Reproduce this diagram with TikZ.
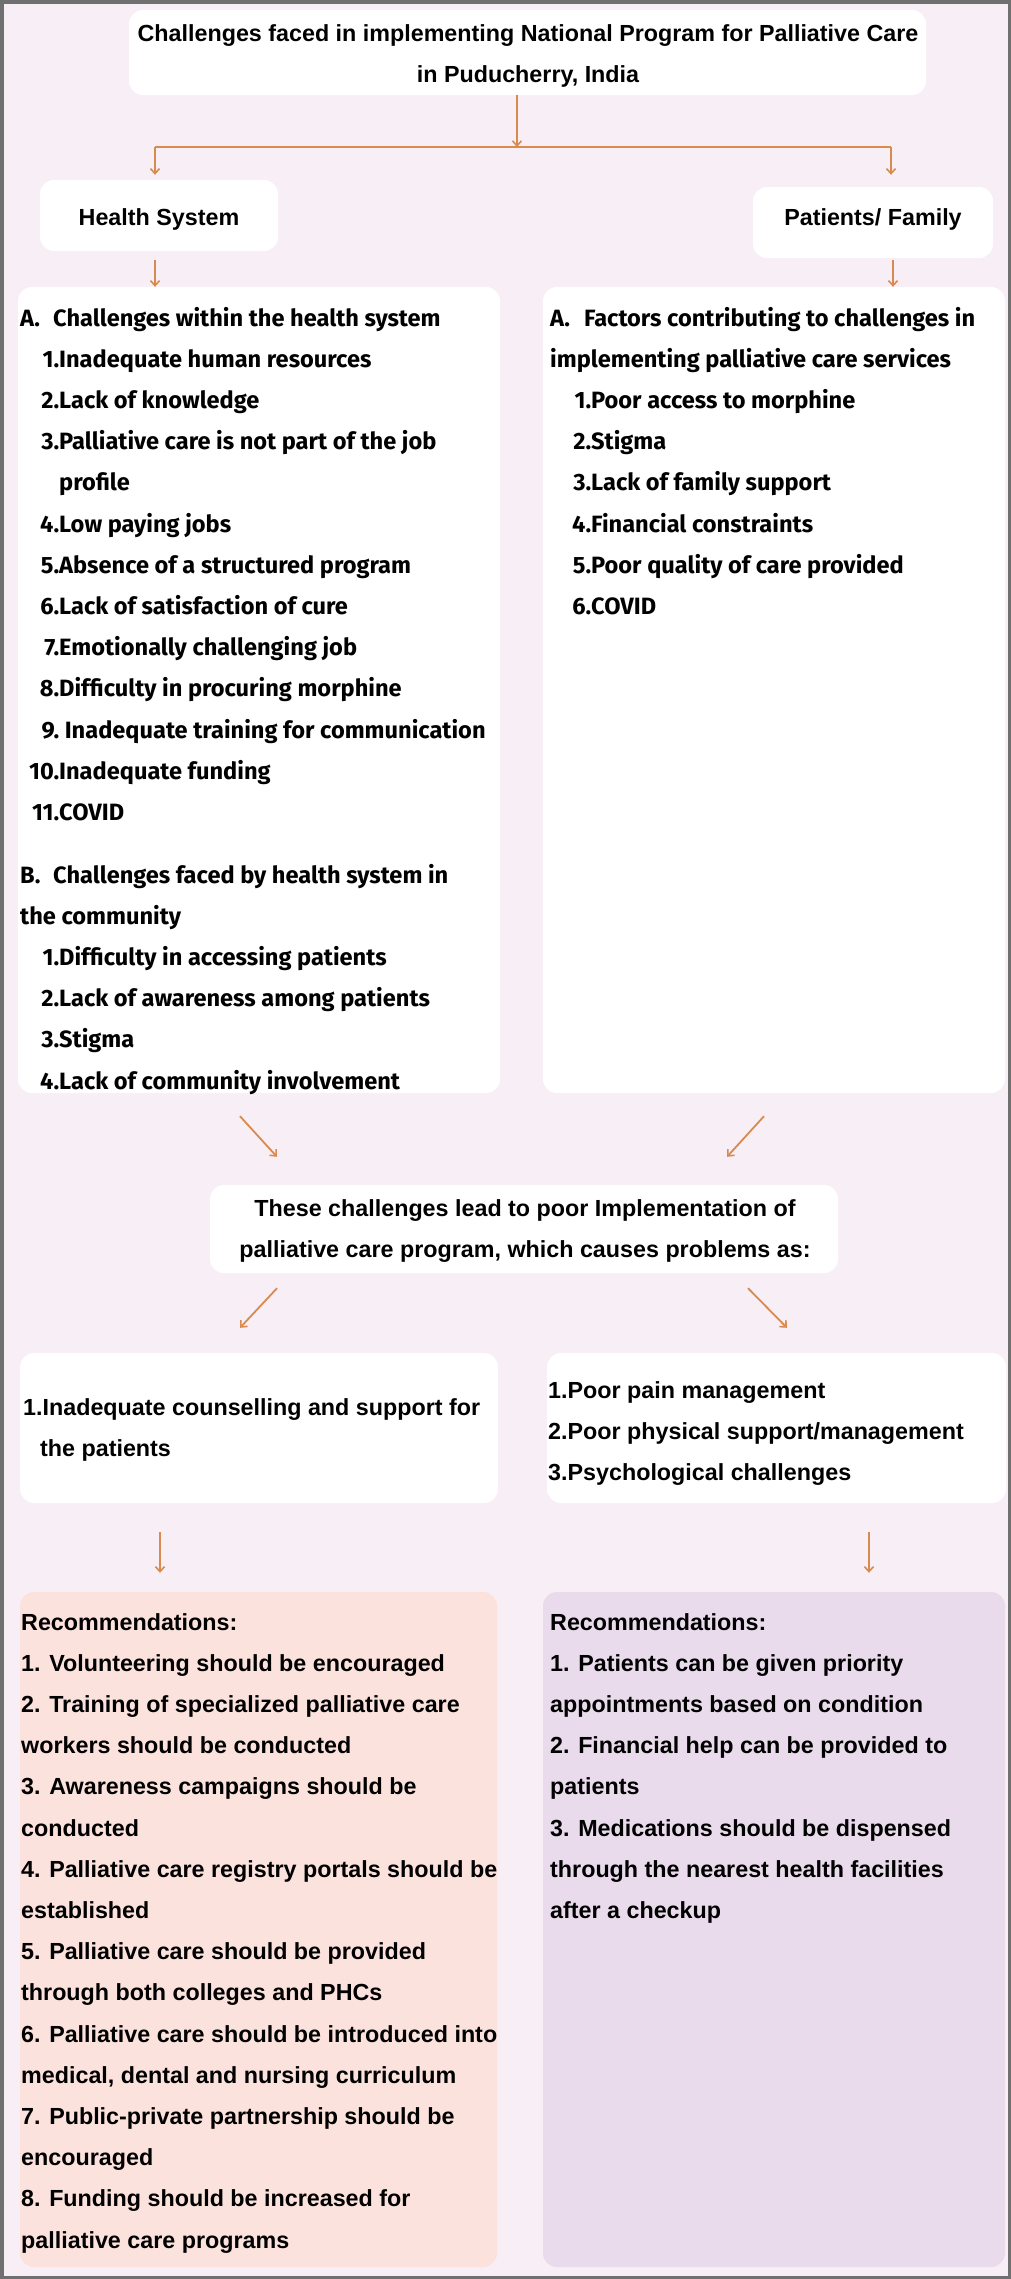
\documentclass[tikz,border=0pt]{standalone}
\usepackage{fontspec}
\setmainfont{Fira Sans}
\newfontfamily\condf{Liberation Sans}
\usetikzlibrary{arrows.meta,calc,fit}
\definecolor{bgpink}{HTML}{F8EEF5}
\definecolor{peach}{HTML}{FBE2DD}
\definecolor{lav}{HTML}{E9DBEC}
\definecolor{arrc}{HTML}{D98A4E}
\definecolor{framec}{HTML}{707070}
\newcommand\lf{\bfseries\fontsize{23.6}{41.2}\selectfont}
\newcommand\cf{\condf\bfseries\fontsize{23.3}{41.2}\selectfont}
\newcommand\NL[2]{\makebox[39pt][r]{#1}#2}
\newcommand\NR[2]{\makebox[41pt][r]{#1}#2}
\begin{document}
\begin{tikzpicture}[x=1pt,y=-1pt,
  box/.style={fill=white, rounded corners=14pt, inner sep=0pt},
  txt/.style={inner sep=0pt, anchor=base west},
  ctxt/.style={inner sep=0pt, anchor=base},
  conn/.style={draw=arrc, line width=1.8pt},
  arr/.style={conn, -{Straight Barb[length=5pt,width=9pt,line width=1.6pt]}}]
\useasboundingbox (0,0) rectangle (1011,2279);
\fill[bgpink] (0,0) rectangle (1011,2279);
\draw[framec, line width=3.5pt] (1.75,1.75) rectangle (1009.25,2277.25);

% boxes
\node[box, fit={(129,10) (926,95)}] (title) {};
\node[box, fit={(40,180) (278,251)}] (hs) {};
\node[box, fit={(753,187) (993,258)}] (pf) {};
\node[box, fit={(18,287) (500,1093)}] (boxA) {};
\node[box, fit={(543,287) (1005,1093)}] (boxR) {};
\node[box, fit={(210,1185) (838,1273)}] (mid) {};
\node[box, fit={(20,1353) (498,1503)}] (lowL) {};
\node[box, fit={(547,1353) (1006,1503)}] (lowR) {};
\node[box, fill=peach, fit={(20,1592) (497,2267)}] (recL) {};
\node[box, fill=lav, fit={(543,1592) (1005,2267)}] (recR) {};

% texts
\node[ctxt] (titletxt) at (528,41) {\parbox[t]{900pt}{\centering\cf Challenges faced in implementing National Program for Palliative Care\\in Puducherry, India}};
\node[ctxt] (hstxt) at (159,225) {\cf Health System};
\node[ctxt] (pftxt) at (873,225) {\cf Patients/ Family};

\node[txt] (atxt) at (20,326) {\parbox[t]{480pt}{\raggedright\lf
\makebox[33pt][l]{A.}Challenges within the health system\\
\NL{1.}{Inadequate human resources}\\
\NL{2.}{Lack of knowledge}\\
\NL{3.}{Palliative care is not part of the job}\\
\hspace*{39pt}profile\\
\NL{4.}{Low paying jobs}\\
\NL{5.}{Absence of a structured program}\\
\NL{6.}{Lack of satisfaction of cure}\\
\NL{7.}{Emotionally challenging job}\\
\NL{8.}{Difficulty in procuring morphine}\\
\NL{9.}{ Inadequate training for communication}\\
\NL{10.}{Inadequate funding}\\
\NL{11.}{COVID}}};

\node[txt] (btxt) at (20,883) {\parbox[t]{480pt}{\raggedright\lf
\makebox[33pt][l]{B.}Challenges faced by health system in\\
the community\\
\NL{1.}{Difficulty in accessing patients}\\
\NL{2.}{Lack of awareness among patients}\\
\NL{3.}{Stigma}\\
\NL{4.}{Lack of community involvement}}};

\node[txt] (rtxt) at (550,326) {\parbox[t]{455pt}{\raggedright\lf
\makebox[34pt][l]{A.}Factors contributing to challenges in\\
implementing palliative care services\\
\NR{1.}{Poor access to morphine}\\
\NR{2.}{Stigma}\\
\NR{3.}{Lack of family support}\\
\NR{4.}{Financial constraints}\\
\NR{5.}{Poor quality of care provided}\\
\NR{6.}{COVID}}};

\node[ctxt] (midtxt) at (525,1216) {\parbox[t]{700pt}{\centering\cf These challenges lead to poor Implementation of\\palliative care program, which causes problems as:}};

\node[txt] (lowLtxt) at (23,1415) {\parbox[t]{480pt}{\raggedright\cf 1.Inadequate counselling and support for\\\hspace*{17pt}the patients}};
\node[txt] (lowRtxt) at (548,1398) {\parbox[t]{455pt}{\raggedright\cf 1.Poor pain management\\2.Poor physical support/management\\3.Psychological challenges}};

\node[txt] (recLtxt) at (21,1630) {\parbox[t]{480pt}{\raggedright\cf Recommendations:\\
1. Volunteering should be encouraged\\
2. Training of specialized palliative care\\
workers should be conducted\\
3. Awareness campaigns should be\\
conducted\\
4. Palliative care registry portals should be\\
established\\
5. Palliative care should be provided\\
through both colleges and PHCs\\
6. Palliative care should be introduced into\\
medical, dental and nursing curriculum\\
7. Public-private partnership should be\\
encouraged\\
8. Funding should be increased for\\
palliative care programs}};

\node[txt] (recRtxt) at (550,1630) {\parbox[t]{455pt}{\raggedright\cf Recommendations:\\
1. Patients can be given priority\\
appointments based on condition\\
2. Financial help can be provided to\\
patients\\
3. Medications should be dispensed\\
through the nearest health facilities\\
after a checkup}};

% connectors
\coordinate (j) at (517,147);
\coordinate (jl) at (155,147);
\coordinate (jr) at (891,147);
\draw[arr] (title.south -| j) -- (j);
\draw[conn] (jl) -- (jr);
\draw[arr, shorten >=5pt] (jl) -- (jl |- hs.north);
\draw[arr, shorten >=12pt] (jr) -- (jr |- pf.north);
\draw[arr] ($(hs.south)+(-4,9)$) coordinate (a1) -- (a1 |- boxA.north);
\draw[arr] ($(pf.south)+(20,2)$) coordinate (a2) -- (a2 |- boxR.north);
\draw[arr] ($(boxA.south)+(-19,23)$) -- ($(mid.north)+(-247,-28)$);
\draw[arr] ($(boxR.south)+(-10,23)$) -- ($(mid.north)+(203,-28)$);
\draw[arr] ($(mid.south)+(-247,15)$) -- ($(lowL.north)+(-19,-25)$);
\draw[arr] ($(mid.south)+(224,15)$) -- ($(lowR.north)+(10.5,-25)$);
\draw[arr] ($(lowL.south)+(-99,29)$) coordinate (a3) -- (a3 |- {$(recL.north)+(0,-19)$});
\draw[arr] ($(lowR.south)+(92.5,29)$) coordinate (a4) -- (a4 |- {$(recR.north)+(0,-19)$});
\end{tikzpicture}
\end{document}
